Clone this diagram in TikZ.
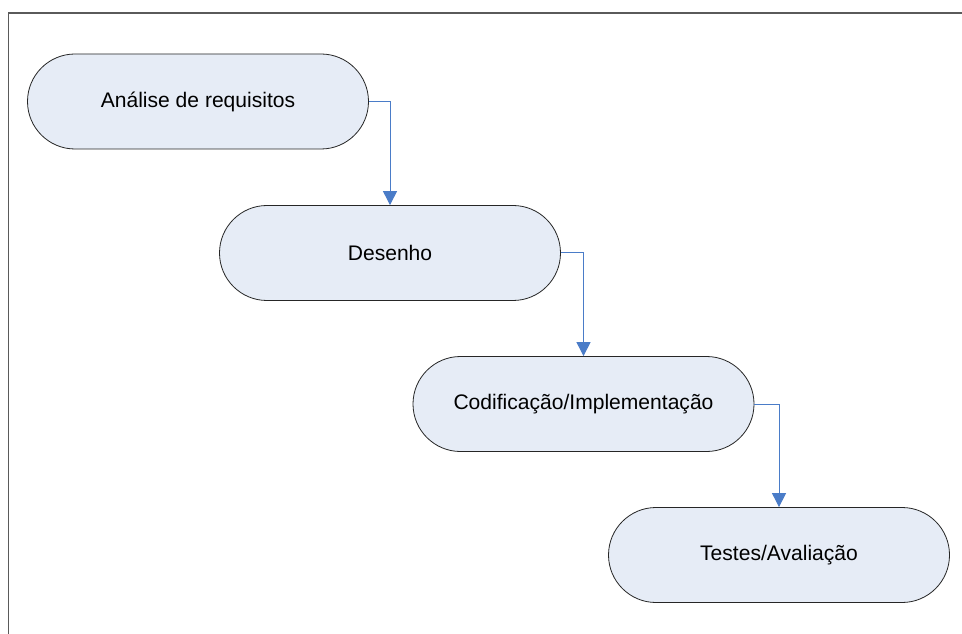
\documentclass[tikz,border=0pt]{standalone}
\usepackage{fontspec}
\setmainfont{Liberation Sans}
\usetikzlibrary{arrows.meta,shapes.misc}
\definecolor{nodefill}{HTML}{E6ECF6}
\definecolor{linkblue}{HTML}{4A7CC8}
\definecolor{framegray}{HTML}{5A5A5A}
\begin{document}
\begin{tikzpicture}[x=0.75pt,y=-0.75pt,
  stage/.style={draw=black!85,line width=0.6pt,fill=nodefill,rounded rectangle,
    minimum width=341*0.75pt,minimum height=95*0.75pt,inner sep=0pt,
    font=\fontsize{15.8}{18}\selectfont},
  link/.style={draw=linkblue,line width=0.75pt,-{Triangle[length=10.5pt,width=10.5pt]}}]
\useasboundingbox (0,0) rectangle (962,634);
\fill[white] (0,0) rectangle (962,634);
\draw[framegray,line width=1.2pt] (8.5,640) -- (8.5,13) -- (970,13);
\node[stage] (a) at (198,101.5) {Análise de requisitos};
\node[stage] (b) at (390,253) {Desenho};
\node[stage] (c) at (583.5,404) {Codificação/Implementação};
\node[stage] (d) at (779,555) {Testes/Avaliação};
\draw[link] (a.east) -| (b.north);
\draw[link] (b.east) -| (c.north);
\draw[link] (c.east) -| (d.north);
\end{tikzpicture}
\end{document}
